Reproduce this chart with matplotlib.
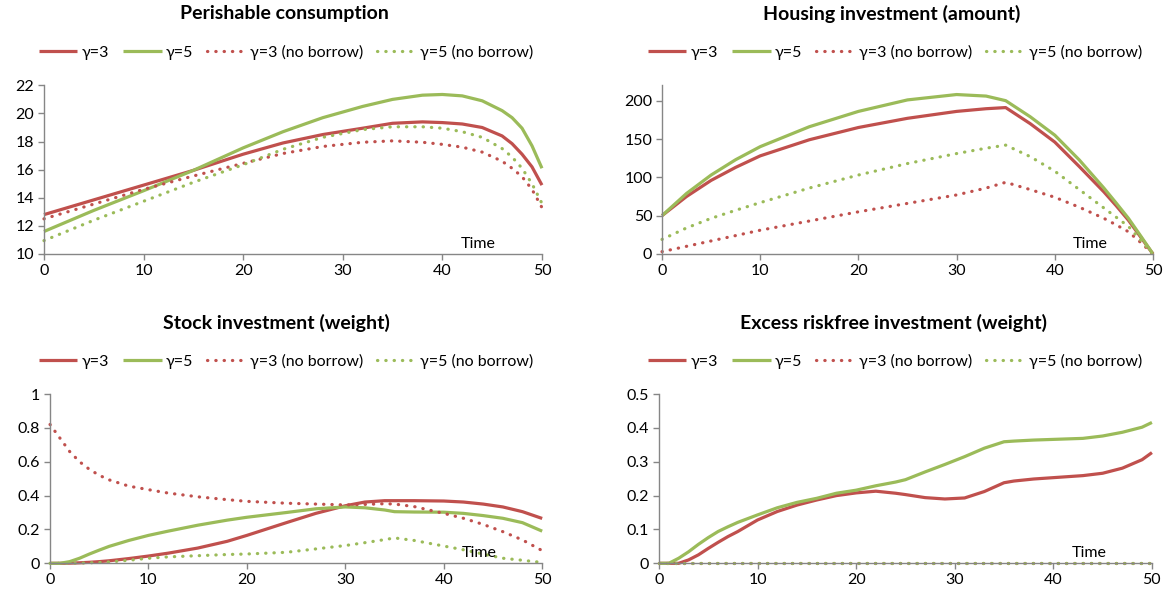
import numpy as np
import matplotlib
matplotlib.use("Agg")
import matplotlib.pyplot as plt
from matplotlib.ticker import FuncFormatter

plt.rcParams['font.family'] = ['Lato', 'DejaVu Sans']

RED = "#C0504D"
GREEN = "#9BBB59"
labels = ["γ=3", "γ=5", "γ=3 (no borrow)", "γ=5 (no borrow)"]

# Perishable consumption
t_cons = [0, 5, 10, 15, 20, 24, 28, 32, 35, 38, 40, 42, 44, 46, 47, 48, 49, 50]
cons_g3 = [12.8, 13.85, 14.9, 15.95, 17.1, 17.9, 18.5, 18.95, 19.3, 19.4, 19.35, 19.25, 19.0, 18.4, 17.85, 17.1, 16.2, 14.9]
cons_g5 = [11.6, 13.1, 14.5, 15.95, 17.55, 18.7, 19.7, 20.5, 21.0, 21.3, 21.35, 21.25, 20.9, 20.2, 19.7, 18.95, 17.7, 16.1]
cons_g3_nb = [12.5, 13.55, 14.6, 15.55, 16.45, 17.15, 17.65, 17.95, 18.05, 17.95, 17.8, 17.6, 17.25, 16.6, 16.1, 15.5, 14.6, 13.3]
cons_g5_nb = [10.95, 12.4, 13.75, 15.1, 16.35, 17.45, 18.3, 18.85, 19.05, 19.05, 18.95, 18.7, 18.3, 17.5, 16.9, 16.1, 15.0, 13.6]

# Housing investment (amount)
t_house = [0, 2.5, 5, 7.5, 10, 15, 20, 25, 30, 33, 35, 37.5, 40, 42.5, 45, 46.25, 47.5, 48.75, 50]
house_g3 = [50, 75, 96, 113, 128, 149, 165, 177, 186, 189.5, 191, 170, 146, 114, 81, 63, 44, 22, 0]
house_g5 = [50, 79, 103, 123, 140, 166, 186, 201, 208, 206, 200, 179, 155, 122.6, 86, 66.5, 46.5, 23.5, 0]
house_g3_nb = [3, 10, 17, 24, 31, 43, 55, 66, 77, 86, 93.5, 84, 74, 61, 46.5, 38, 29, 15, 0]
house_g5_nb = [19, 34, 46.5, 57, 67, 86, 103, 118, 131, 138, 142, 127, 108, 84, 60, 48, 36, 18, 0]

# Stock investment (weight)
t_stock = [0, 1, 2, 3, 4, 5, 6, 8, 10, 12, 15, 18, 20, 24, 27, 30, 32, 34, 35, 37, 40, 42, 44, 46, 48, 50]
stock_g3 = [0, 0, 0.001, 0.003, 0.006, 0.01, 0.015, 0.028, 0.043, 0.06, 0.09, 0.13, 0.165, 0.24, 0.295, 0.34, 0.362, 0.37, 0.37, 0.37, 0.368, 0.362, 0.35, 0.333, 0.305, 0.265]
stock_g5 = [0, 0, 0.01, 0.03, 0.055, 0.078, 0.1, 0.135, 0.165, 0.19, 0.225, 0.255, 0.272, 0.30, 0.322, 0.333, 0.328, 0.315, 0.305, 0.303, 0.302, 0.295, 0.282, 0.266, 0.24, 0.19]
stock_g3_nb = [0.82, 0.74, 0.66, 0.60, 0.555, 0.52, 0.493, 0.456, 0.435, 0.415, 0.393, 0.376, 0.366, 0.355, 0.35, 0.345, 0.348, 0.352, 0.35, 0.335, 0.295, 0.266, 0.23, 0.187, 0.138, 0.075]
stock_g5_nb = [0, 0, 0, 0.001, 0.003, 0.005, 0.008, 0.018, 0.03, 0.038, 0.045, 0.052, 0.055, 0.065, 0.085, 0.105, 0.122, 0.14, 0.15, 0.135, 0.102, 0.08, 0.055, 0.03, 0.018, 0.005]

# Excess riskfree investment (weight)
t_rf = [0, 1, 2, 3, 4, 5, 6, 7, 8, 10, 12, 14, 16, 18, 20, 22, 24, 25, 27, 29, 31, 33, 35, 36, 38, 40, 43, 45, 47, 49, 50]
rf_g3 = [0, 0, 0, 0.01, 0.025, 0.044, 0.062, 0.079, 0.094, 0.128, 0.153, 0.172, 0.187, 0.2, 0.208, 0.213, 0.207, 0.203, 0.194, 0.19, 0.193, 0.212, 0.238, 0.243, 0.249, 0.253, 0.259, 0.266, 0.281, 0.306, 0.327]
rf_g5 = [0, 0, 0.015, 0.034, 0.056, 0.076, 0.094, 0.108, 0.121, 0.143, 0.164, 0.18, 0.192, 0.207, 0.216, 0.229, 0.24, 0.247, 0.27, 0.292, 0.315, 0.34, 0.359, 0.361, 0.364, 0.366, 0.369, 0.376, 0.387, 0.402, 0.416]
rf_g3_nb = [0, 0, 0, 0, 0, 0, 0, 0, 0, 0, 0, 0, 0, 0, 0, 0, 0, 0, 0, 0, 0, 0, 0, 0, 0, 0, 0, 0, 0, 0, 0]
rf_g5_nb = [0, 0, 0, 0, 0, 0, 0, 0, 0, 0, 0, 0, 0, 0, 0, 0, 0, 0, 0, 0, 0, 0, 0, 0, 0, 0, 0, 0, 0, 0, 0]

panels = [
    ("Perishable consumption", t_cons, [cons_g3, cons_g5, cons_g3_nb, cons_g5_nb],
     [0.0376, 0.5774, 0.426, 0.2806], (10, 22), [10, 12, 14, 16, 18, 20, 22], (284, 14), (286, 52)),
    ("Housing investment (amount)", t_house, [house_g3, house_g5, house_g3_nb, house_g5_nb],
     [0.5663, 0.5774, 0.42, 0.2806], (0, 220), [0, 50, 100, 150, 200], (892, 14), (895, 52)),
    ("Stock investment (weight)", t_stock, [stock_g3, stock_g5, stock_g3_nb, stock_g5_nb],
     [0.0428, 0.0627, 0.421, 0.2817], (0, 1), [0, 0.2, 0.4, 0.6, 0.8, 1], (276, 323), (286, 361)),
    ("Excess riskfree investment (weight)", t_rf, [rf_g3, rf_g5, rf_g3_nb, rf_g5_nb],
     [0.5637, 0.0627, 0.4217, 0.2817], (0, 0.5), [0, 0.1, 0.2, 0.3, 0.4, 0.5], (893, 323), (895, 361)),
]

W, H = 1169, 601
fig = plt.figure(figsize=(W / 100, H / 100), dpi=100)

styles = [(RED, "-"), (GREEN, "-"), (RED, (0, (0.1, 2.5))), (GREEN, (0, (0.1, 2.5)))]

for title, t, series, pos, ylim, yticks, title_xy, leg_xy in panels:
    ax = fig.add_axes(pos)
    for (color, ls), y, lab in zip(styles, series, labels):
        ax.plot(t, y, color=color, linestyle=ls, lw=2.3, label=lab, clip_on=False,
                dash_capstyle="round", solid_capstyle="butt", solid_joinstyle="round")
    ax.set_xlim(0, 50)
    ax.set_ylim(*ylim)
    ax.set_xticks([0, 10, 20, 30, 40, 50])
    ax.set_yticks(yticks)
    ax.yaxis.set_major_formatter(FuncFormatter(lambda v, p: f"{v:g}"))
    for side in ["top", "right"]:
        ax.spines[side].set_visible(False)
    for side in ["left", "bottom"]:
        ax.spines[side].set_color("#868686")
        ax.spines[side].set_linewidth(1.0)
    ax.tick_params(direction="out", length=4, width=1, color="#868686", labelsize=11.5, pad=3)
    ax.text(0.872, 0.062, "Time", transform=ax.transAxes, ha="center", va="center", fontsize=11.5)

    fig.text(title_xy[0] / W, 1 - title_xy[1] / H, title, ha="center", va="center",
             fontsize=14, fontweight="bold")
    ax.legend(loc="center", bbox_to_anchor=(leg_xy[0] / W, 1 - leg_xy[1] / H),
              bbox_transform=fig.transFigure, ncol=4, frameon=False, fontsize=11.5,
              handlelength=2.4, handletextpad=0.25, columnspacing=0.9, borderpad=0)

fig.savefig("out.png", dpi=100)
